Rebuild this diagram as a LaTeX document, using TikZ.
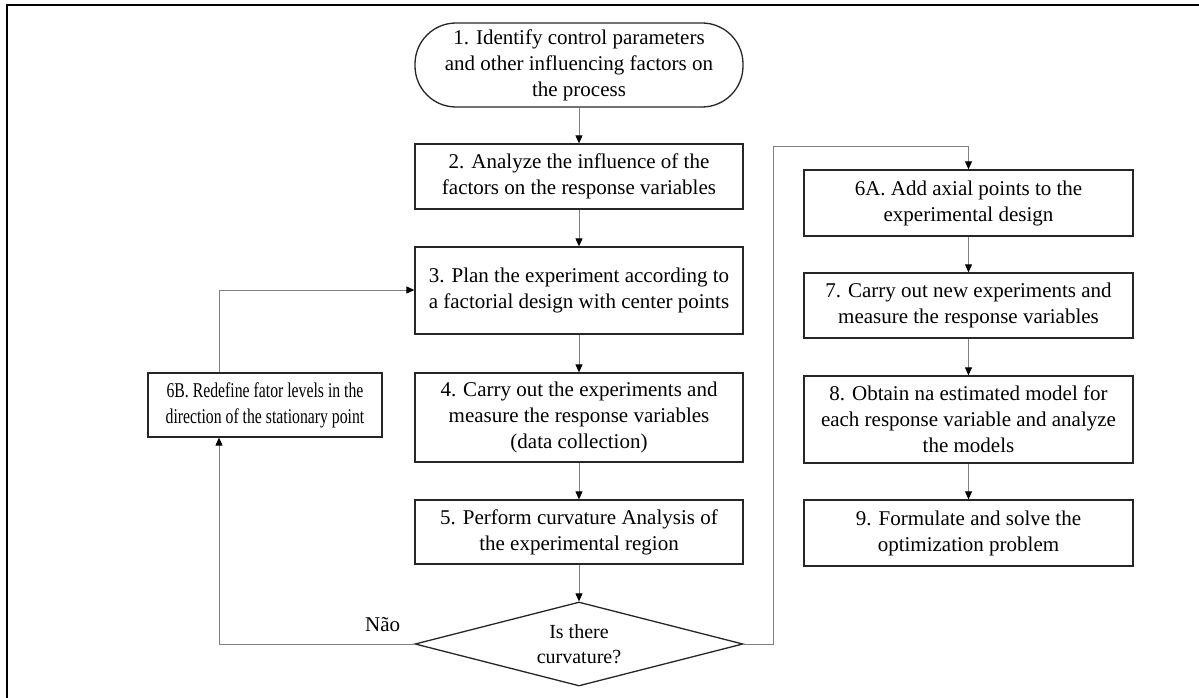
\documentclass[tikz,border=0pt]{standalone}
\usepackage{fontspec}
\setmainfont{Liberation Serif}
\newfontfamily\narrowserif[FakeStretch=0.75]{Liberation Serif}
\usetikzlibrary{arrows.meta,shapes.geometric}
\begin{document}
\begin{tikzpicture}[x=1pt,y=1pt,
  every node/.style={font=\fontsize{21}{26}\selectfont},
  box/.style={draw=black!85,line width=1.3pt,align=center,inner sep=1pt},
  stadium/.style={box,rounded corners=41pt},
  decision/.style={draw=black!85,line width=1.3pt,diamond,aspect=4,inner sep=0pt,align=center,
    font=\fontsize{20}{25}\selectfont},
  link/.style={draw=black!50,line width=0.9pt,-{Triangle[length=8pt,width=7pt,color=black]}}]
\useasboundingbox (0,0) rectangle (1199,-698);
% page frame edges
\draw[line width=1.8pt] (7,-698) -- (7,-5) -- (1199,-5);

% main column
\node[stadium,minimum width=328pt,minimum height=84pt] (n1) at (579,-65)
  {1. Identify control parameters\\and other influencing factors on\\the process};
\node[box,minimum width=328pt,minimum height=65pt] (n2) at (579,-176.5)
  {2. Analyze the influence of the\\factors on the response variables};
\node[box,minimum width=328pt,minimum height=87pt] (n3) at (579,-290.5)
  {3. Plan the experiment according to\\a factorial design with center points};
\node[box,minimum width=328pt,minimum height=89pt] (n4) at (579,-417.5)
  {4. Carry out the experiments and\\measure the response variables\\(data collection)};
\node[box,minimum width=328pt,minimum height=64pt] (n5) at (579,-532)
  {5. Perform curvature Analysis of\\the experimental region};
\node[decision,minimum width=328pt,minimum height=84pt] (d) at (579,-644)
  {Is there\\curvature?};

% loop back
\node[box,minimum width=234pt,minimum height=64pt,
  font=\narrowserif\fontsize{21}{26}\selectfont] (n6b) at (265,-405)
  {6B. Redefine fator levels in the\\direction of the stationary point};

% right column
\node[box,minimum width=329pt,minimum height=66pt] (n6a) at (968.5,-203)
  {6A. Add axial points to the\\experimental design};
\node[box,minimum width=329pt,minimum height=65pt] (n7) at (968.5,-305.5)
  {7. Carry out new experiments and\\measure the response variables};
\node[box,minimum width=329pt,minimum height=87pt] (n8) at (968.5,-419.5)
  {8. Obtain na estimated model for\\each response variable and analyze\\the models};
\node[box,minimum width=329pt,minimum height=66pt] (n9) at (968.5,-533)
  {9. Formulate and solve the\\optimization problem};

\coordinate (lx) at (219,0);
\coordinate (rx) at (773,0);
\coordinate (ry) at (0,-146);
\coordinate (ly) at (0,-290);

\draw[link] (n1) -- (n2);
\draw[link] (n2) -- (n3);
\draw[link] (n3) -- (n4);
\draw[link] (n4) -- (n5);
\draw[link] (n5) -- (d);

\draw[link] (d.west) -| (lx |- n6b.south);
\node[anchor=south east,inner sep=0pt] (no) at ([xshift=-14pt,yshift=12pt]d.west) {Não};
\draw[link] (lx |- n6b.north) |- (ly -| n3.west);

\draw[link] (d.east) -| (rx |- ry) -| (n6a.north);
\draw[link] (n6a) -- (n7);
\draw[link] (n7) -- (n8);
\draw[link] (n8) -- (n9);
\end{tikzpicture}
\end{document}
